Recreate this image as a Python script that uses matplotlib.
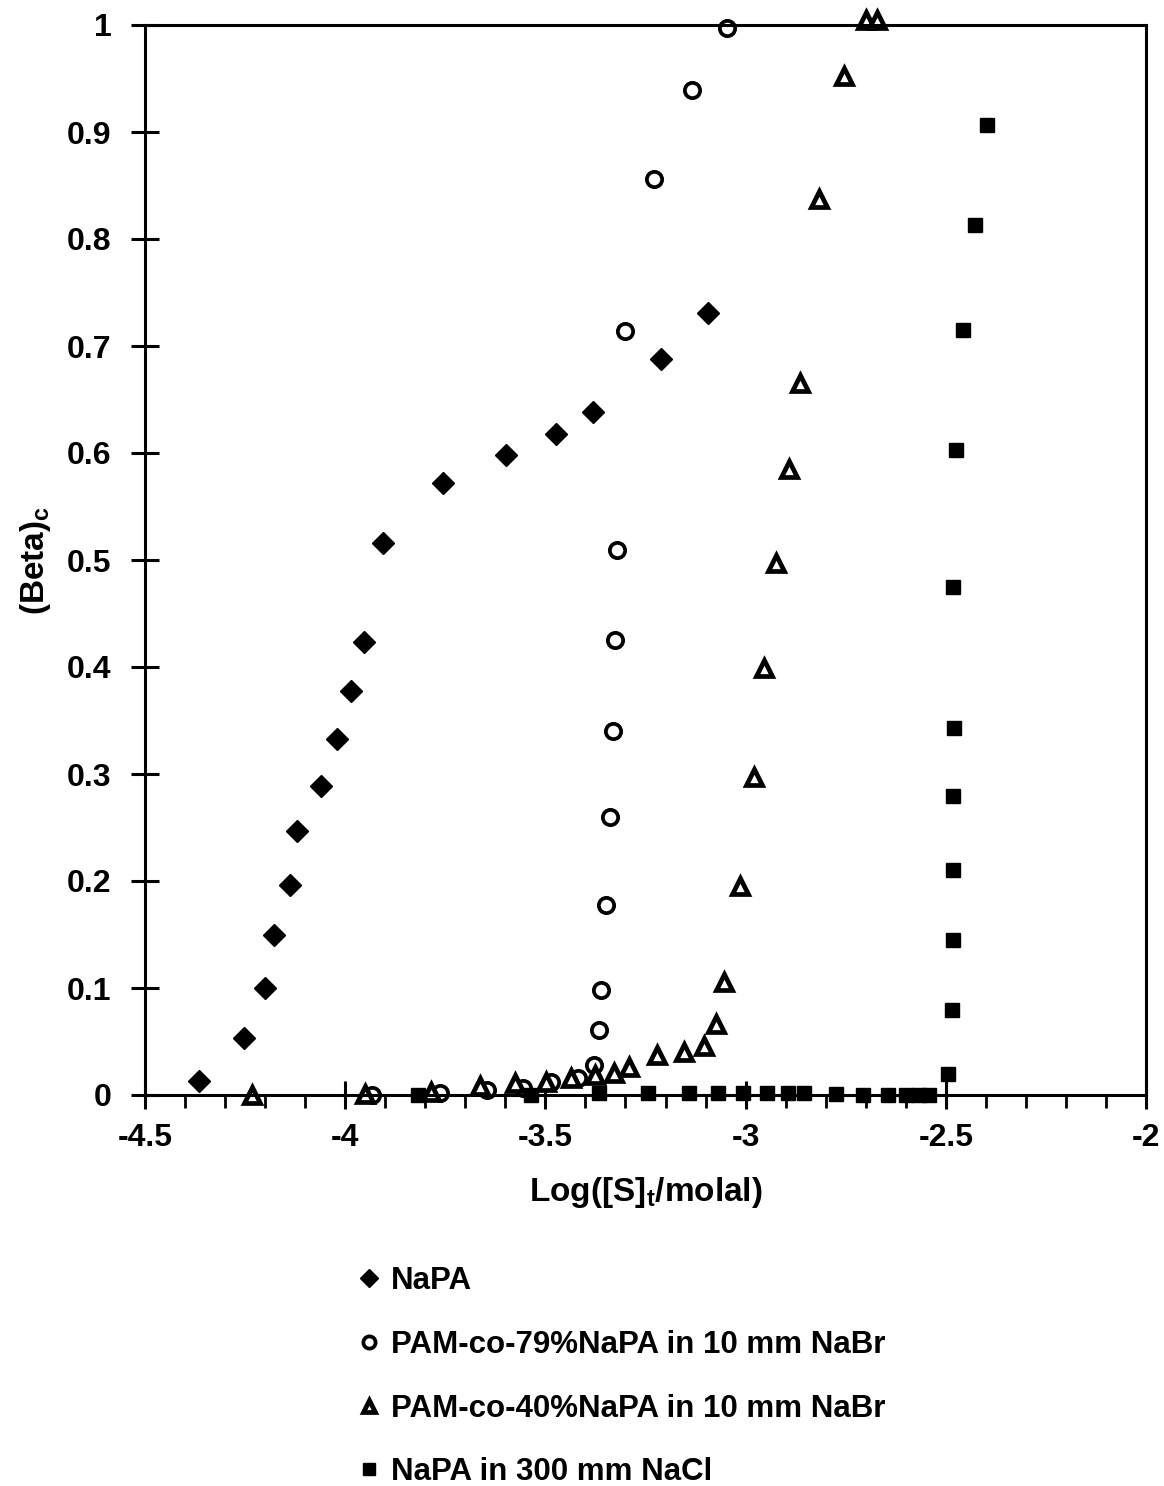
import matplotlib
matplotlib.use("Agg")
import matplotlib.pyplot as plt
from matplotlib.ticker import MultipleLocator

plt.rcParams['font.family'] = ['Liberation Sans', 'DejaVu Sans']
plt.rcParams['mathtext.fontset'] = 'custom'
plt.rcParams['mathtext.bf'] = 'Liberation Sans:bold'
plt.rcParams['mathtext.rm'] = 'Liberation Sans'

# NaPA
napa_x = [-4.365, -4.252, -4.200, -4.177, -4.138, -4.121, -4.060, -4.021, -3.985,
          -3.953, -3.905, -3.755, -3.598, -3.474, -3.382, -3.211, -3.095]
napa_y = [0.013, 0.053, 0.100, 0.150, 0.196, 0.247, 0.289, 0.333, 0.378,
          0.423, 0.516, 0.572, 0.598, 0.618, 0.638, 0.688, 0.731]

# PAM-co-79%NaPA in 10 mm NaBr
pam79_x = [-3.934, -3.764, -3.647, -3.557, -3.487, -3.418, -3.378, -3.367, -3.360,
           -3.349, -3.339, -3.331, -3.325, -3.322, -3.301, -3.230, -3.134, -3.046]
pam79_y = [0.000, 0.002, 0.005, 0.007, 0.012, 0.016, 0.028, 0.061, 0.098,
           0.178, 0.260, 0.340, 0.425, 0.509, 0.714, 0.856, 0.939, 0.997]

# PAM-co-40%NaPA in 10 mm NaBr
pam40_x = [-4.233, -3.950, -3.785, -3.664, -3.575, -3.498, -3.435, -3.375, -3.328,
           -3.290, -3.222, -3.155, -3.105, -3.073, -3.054, -3.013, -2.978, -2.953,
           -2.923, -2.892, -2.865, -2.816, -2.755, -2.700, -2.672]
pam40_y = [0.000, 0.001, 0.003, 0.008, 0.011, 0.012, 0.016, 0.019, 0.021,
           0.026, 0.037, 0.040, 0.046, 0.066, 0.106, 0.195, 0.297, 0.399,
           0.497, 0.585, 0.665, 0.837, 0.952, 1.005, 1.005]

# NaPA in 300 mm NaCl
salt_x = [-3.817, -3.535, -3.365, -3.243, -3.141, -3.069, -3.006, -2.946, -2.894,
          -2.854, -2.774, -2.707, -2.645, -2.600, -2.567, -2.542, -2.495, -2.484,
          -2.483, -2.482, -2.481, -2.480, -2.481, -2.474, -2.456, -2.426, -2.396]
salt_y = [0.000, 0.000, 0.002, 0.002, 0.002, 0.002, 0.002, 0.002, 0.002,
          0.002, 0.001, 0.000, 0.000, 0.000, 0.000, 0.000, 0.020, 0.079,
          0.145, 0.210, 0.279, 0.343, 0.475, 0.603, 0.715, 0.813, 0.907]

labels = ['NaPA', 'PAM-co-79%NaPA in 10 mm NaBr',
          'PAM-co-40%NaPA in 10 mm NaBr', 'NaPA in 300 mm NaCl']
xticks = [-4.5, -4, -3.5, -3, -2.5, -2]
xticklabels = ['-4.5', '-4', '-3.5', '-3', '-2.5', '-2']
yticks = [0, 0.1, 0.2, 0.3, 0.4, 0.5, 0.6, 0.7, 0.8, 0.9, 1]
yticklabels = ['0', '0.1', '0.2', '0.3', '0.4', '0.5', '0.6', '0.7', '0.8', '0.9', '1']

fig = plt.figure(figsize=(11.64, 14.86), dpi=100)
ax = fig.add_axes([145 / 1164, 1 - 1095 / 1486, 1001 / 1164, 1070 / 1486])

ax.plot(napa_x, napa_y, linestyle='none', marker='D', ms=11, color='black',
        label=labels[0], clip_on=False)
ax.plot(pam79_x, pam79_y, linestyle='none', marker='o', ms=11, mfc='white',
        mec='black', mew=2.7, label=labels[1], clip_on=False)
ax.plot(pam40_x, pam40_y, linestyle='none', marker='^', ms=11, mfc='white',
        mec='black', mew=3.4, label=labels[2], clip_on=False)
ax.plot(salt_x, salt_y, linestyle='none', marker='s', ms=10.5, color='black',
        label=labels[3], clip_on=False)

ax.set_xlim(-4.5, -2)
ax.set_ylim(0, 1)
ax.set_xticks(xticks)
ax.set_xticklabels(xticklabels)
ax.set_yticks(yticks)
ax.set_yticklabels(yticklabels)
ax.xaxis.set_minor_locator(MultipleLocator(0.1))

for s in ax.spines.values():
    s.set_linewidth(2.2)

ax.tick_params(axis='both', which='major', direction='inout', length=20, width=2.2,
               labelsize=23)
for lab in ax.get_xticklabels() + ax.get_yticklabels():
    lab.set_fontweight('bold')
ax.tick_params(axis='y', which='major', pad=14)
ax.tick_params(axis='x', which='major', pad=10)
ax.tick_params(axis='x', which='minor', direction='out', length=9, width=2)

ax.set_xlabel(r'Log([S]$_{\mathbf{t}}$/molal)', fontsize=24, fontweight='bold', labelpad=16)
ax.set_ylabel(r'(Beta)$_{\mathbf{c}}$', fontsize=24, fontweight='bold', labelpad=10)

handles, _ = ax.get_legend_handles_labels()
fig.legend(handles, labels, loc='upper left', bbox_to_anchor=(330 / 1164, 1 - 1238 / 1486),
           frameon=False, prop={'size': 22.5, 'weight': 'bold'}, markerscale=0.8,
           handlelength=0.7, handletextpad=0.35, labelspacing=1.08)

fig.savefig('out.png', dpi=100)
